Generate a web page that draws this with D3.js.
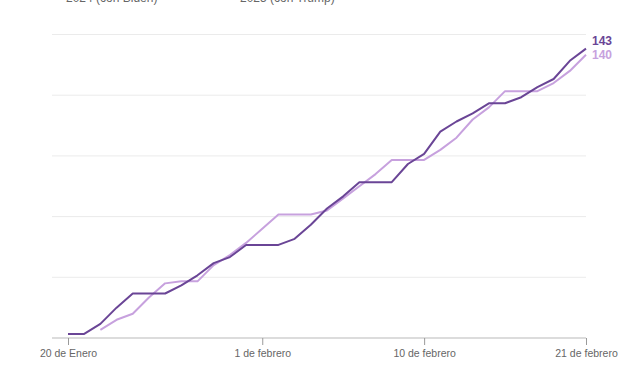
<!DOCTYPE html>
<html>
<head>
<meta charset="utf-8">
<script src="https://cdn.jsdelivr.net/npm/d3@7"></script>
<style>
  html, body { margin: 0; padding: 0; background: #fff; }
  svg { display: block; font-family: "Liberation Sans", Arial, Helvetica, sans-serif; }
</style>
</head>
<body>
<svg id="chart" width="640" height="374"></svg>
<script>
// ---- data ----
const dayIndex = d3.range(0, 33);
const series2024 = [2,2,7,15,22,22,22,26,31,37,40,46,46,46,49,56,64,70,77,77,77,86,91,102,107,111,116,116,119,124,128,137,143];
const series2025 = [null,null,4,9,12,20,27,28,28,36,41,47,54,61,61,61,63,69,75,81,88,88,88,93,99,108,114,122,122,122,126,132,140];
const legendLabels = ["2024 (con Biden)", "2025 (con Trump)"];
const tickIndex = [0, 12, 22, 32];
const tickLabels = ["20 de Enero", "1 de febrero", "10 de febrero", "21 de febrero"];
const gridValues = [30, 60, 90, 120, 150];

// ---- layout ----
const svg = d3.select("#chart");
const x = d3.scaleLinear().domain([0, 32]).range([68, 586]);
const y = d3.scaleLinear().domain([0, 150]).range([338, 34.5]);
const colDark = "#6a4596";
const colLight = "#c7a1de";

// gridlines
svg.append("g").selectAll("line").data(gridValues).join("line")
  .attr("x1", 52).attr("x2", 586)
  .attr("y1", d => y(d)).attr("y2", d => y(d))
  .attr("stroke", "#ebebeb").attr("stroke-width", 1);

// x axis
const xAxis = d3.axisBottom(x)
  .tickValues(tickIndex)
  .tickFormat((d, i) => tickLabels[i])
  .tickSize(7).tickPadding(5);
const gx = svg.append("g").attr("transform", `translate(0,${y(0)})`).call(xAxis);
gx.select(".domain").remove();
gx.insert("line", ":first-child").attr("x1", 52).attr("x2", 586).attr("y1", 0).attr("y2", 0)
  .attr("stroke", "#dcdcdc").attr("stroke-width", 2);
gx.selectAll(".tick line").attr("stroke", "#9a9a9a").attr("stroke-width", 1);
gx.selectAll(".tick text").attr("fill", "#666").attr("font-size", 10.5)
  .style("font-family", "'Liberation Sans', Arial, sans-serif");

// lines
const line = d3.line()
  .defined(d => d[1] !== null)
  .x(d => x(d[0])).y(d => y(d[1]));

svg.append("path")
  .datum(dayIndex.map(i => [i, series2025[i]]))
  .attr("d", line).attr("fill", "none")
  .attr("stroke", colLight).attr("stroke-width", 2).attr("stroke-linejoin", "round");

svg.append("path")
  .datum(dayIndex.map(i => [i, series2024[i]]))
  .attr("d", line).attr("fill", "none")
  .attr("stroke", colDark).attr("stroke-width", 2).attr("stroke-linejoin", "round");

// end labels
const last = dayIndex.length - 1;
svg.append("text").attr("x", x(last) + 6).attr("y", y(series2024[last]) - 7)
  .attr("fill", colDark).attr("font-size", 12).attr("font-weight", "bold")
  .attr("dominant-baseline", "middle").text(series2024[last]);
svg.append("text").attr("x", x(last) + 6).attr("y", y(series2025[last]) + 1)
  .attr("fill", colLight).attr("font-size", 12).attr("font-weight", "bold")
  .attr("dominant-baseline", "middle").text(series2025[last]);

// legend (cut off at the top, as in the original)
svg.append("g").selectAll("text").data(legendLabels).join("text")
  .attr("x", (d, i) => i === 0 ? 66 : 240)
  .attr("y", 2)
  .attr("fill", "#666").attr("font-size", 12)
  .text(d => d);
</script>
</body>
</html>
